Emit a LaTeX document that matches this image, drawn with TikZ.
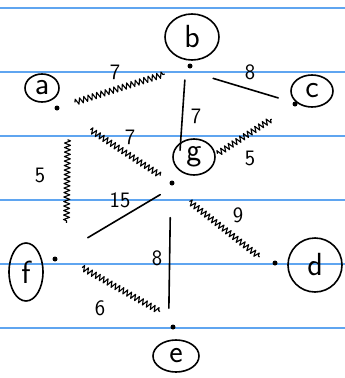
\documentclass[tikz,border=0pt]{standalone}
\usetikzlibrary{shapes.geometric,decorations.pathmorphing,calc}
\definecolor{ruled}{RGB}{95,165,240}
\tikzset{
  ruleline/.style={ruled,line width=1.2pt},
  lab/.style={ellipse,draw,line width=1.6pt,inner sep=0pt,font=\sffamily\fontsize{32}{32}\selectfont},
  dotnode/.style={circle,fill,inner sep=0pt,minimum size=5pt},
  plain/.style={line width=1.6pt,line cap=round},
  zz/.style={line width=1.1pt,line join=round,decorate,decoration={zigzag,segment length=4.5pt,amplitude=3pt}},
  wt/.style={font=\sffamily\fontsize{22}{22}\selectfont,inner sep=0pt}
}
\begin{document}
\begin{tikzpicture}[x=1pt,y=-1pt]
\useasboundingbox (0,0) rectangle (345,378);
% ruled lines
\foreach \yy in {8,72,136,200,264,328}
  \draw[ruleline] (0,\yy) -- (345,\yy);
% vertex labels
\node[lab,minimum width=54pt,minimum height=46pt] (nb) at (192,37) {b};
\node[lab,minimum width=42pt,minimum height=32pt] (nc) at (312,91) {c};
\node[lab,minimum width=34pt,minimum height=28pt] (na) at (42,88) {a};
\node[lab,minimum width=42pt,minimum height=36pt] (ng) at (194,157) {g};
\node[lab,minimum width=54pt,minimum height=54pt] (nd) at (315,265) {d};
\node[lab,minimum width=46pt,minimum height=32pt] (ne) at (176,356) {e};
\node[lab,minimum width=34pt,minimum height=58pt] (nf) at (26,272) {f};
% vertex dots
\node[dotnode] (a) at (57,108) {};
\node[dotnode] (b) at (190,66) {};
\node[dotnode] (c) at (295,104) {};
\node[dotnode] (g) at (172,183) {};
\node[dotnode] (d) at (275,263) {};
\node[dotnode] (e) at (173,327) {};
\node[dotnode] (f) at (55,259) {};
% edges
\draw[zz] ($(a)!0.135!(b)$) -- ($(a)!0.81!(b)$);
\draw[plain] ($(b)!0.22!(c)+(0,4)$) -- ($(b)!0.84!(c)$);
\draw[plain] ($(b)!0.12!(g)+(-3,0)$) -- ($(b)!0.72!(g)+(3,0)$);
\draw[zz] ($(g)!0.37!(c)$) -- ($(g)!0.81!(c)$);
\draw[zz] ($(a)!0.29!(g)$) -- ($(a)!0.9!(g)$);
\draw[zz] ($(a)!0.21!(f)+(11,0)$) -- ($(a)!0.76!(f)+(11,0)$);
\draw[plain] ($(f)!0.28!(g)$) -- ($(f)!0.9!(g)+(0,4)$);
\draw[zz] ($(g)!0.17!(d)+(0,5)$) -- ($(g)!0.85!(d)+(0,6)$);
\draw[plain] ($(g)!0.24!(e)+(-2,0)$) -- ($(g)!0.87!(e)+(-4,0)$);
\draw[zz] ($(f)!0.23!(e)+(0,-7)$) -- ($(f)!0.89!(e)+(0,-8)$);
% weights
\node[wt] (w1) at (115,72) {7};
\node[wt] (w2) at (250,72) {8};
\node[wt] (w3) at (196,116) {7};
\node[wt] (w4) at (250,158) {5};
\node[wt] (w5) at (130,137) {7};
\node[wt] (w6) at (40,175) {5};
\node[wt] (w7) at (120,200) {15};
\node[wt] (w8) at (238,215) {9};
\node[wt] (w9) at (157,258) {8};
\node[wt] (w10) at (100,308) {6};
\end{tikzpicture}
\end{document}
